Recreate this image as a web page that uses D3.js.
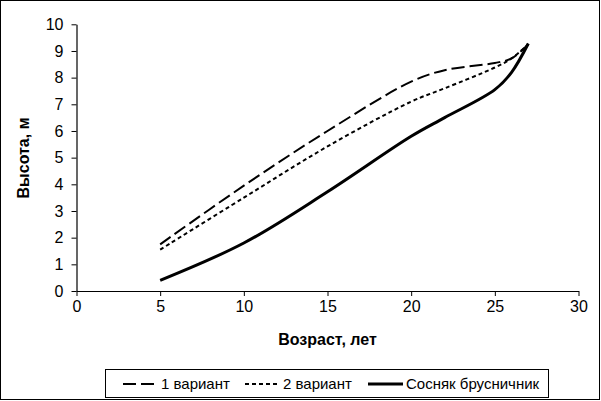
<!DOCTYPE html>
<html>
<head>
<meta charset="utf-8">
<script src="https://cdn.jsdelivr.net/npm/d3@7"></script>
<style>
  body { margin: 0; background: #fff; }
  svg { display: block; font-family: "Liberation Sans", Arial, sans-serif; }
</style>
</head>
<body>
<div id="chart"></div>
<script>
// data
var years = [5, 10, 15, 20, 22, 25, 26, 27];
var variant1 = [1.75, 3.95, 6.0, 7.85, 8.28, 8.55, 8.72, 9.25];
var variant2 = [1.55, 3.5, 5.42, 7.1, 7.6, 8.38, 8.72, 9.25];
var sosnyak = [0.4, 1.8, 3.72, 5.8, 6.5, 7.55, 8.2, 9.28];
var seriesNames = ["1 вариант", "2 вариант", "Сосняк брусничник"];
var xTicks = [0, 5, 10, 15, 20, 25, 30];
var yTicks = [0, 1, 2, 3, 4, 5, 6, 7, 8, 9, 10];

var width = 601,
    height = 401;

var x = d3.scaleLinear().domain([0, 30]).range([76.5, 578.5]);
var y = d3.scaleLinear().domain([0, 10]).range([291, 24.3]);

var svg = d3.select("#chart").append("svg")
  .attr("width", width)
  .attr("height", height);

// outer frame
svg.append("rect")
  .attr("x", 0.5).attr("y", 0.5)
  .attr("width", width - 2).attr("height", height - 2)
  .attr("fill", "#fff").attr("stroke", "#000");

// axes
var xAxis = svg.append("g")
  .attr("transform", "translate(0," + y(0) + ")")
  .call(d3.axisBottom(x).tickValues(xTicks).tickSize(5).tickSizeOuter(0).tickPadding(5));

var yAxis = svg.append("g")
  .attr("transform", "translate(" + x(0) + ",0)")
  .call(d3.axisLeft(y).tickValues(yTicks).tickSize(5).tickSizeOuter(0).tickPadding(8));

[xAxis, yAxis].forEach(function(a){
  a.select(".domain").attr("stroke", "#000").attr("stroke-width", 1.2);
  a.selectAll(".tick line").attr("stroke", "#000");
  a.selectAll(".tick text")
    .attr("fill", "#000")
    .style("font-family", "Liberation Sans, Arial, sans-serif")
    .style("font-size", "16px");
});

// axis titles
svg.append("text")
  .attr("x", 327.5).attr("y", 345)
  .attr("text-anchor", "middle")
  .style("font-weight", "bold").style("font-size", "16px")
  .text("Возраст, лет");

svg.append("text")
  .attr("transform", "translate(29,158) rotate(-90)")
  .attr("text-anchor", "middle")
  .style("font-weight", "bold").style("font-size", "16px")
  .text("Высота, м");

// lines
var styles = [
  { values: variant1, dash: "13,5", width: 2 },
  { values: variant2, dash: "4,3", width: 2 },
  { values: sosnyak, dash: null, width: 3 }
];

var line = d3.line()
  .x(function(d){ return x(d[0]); })
  .y(function(d){ return y(d[1]); })
  .curve(d3.curveCatmullRom.alpha(0.5));

styles.forEach(function(s){
  svg.append("path")
    .datum(years.map(function(yr, i){ return [yr, s.values[i]]; }))
    .attr("d", line)
    .attr("fill", "none")
    .attr("stroke", "#000")
    .attr("stroke-width", s.width)
    .attr("stroke-dasharray", s.dash);
});

// legend
var legend = svg.append("g");
legend.append("rect")
  .attr("x", 105.5).attr("y", 369.5)
  .attr("width", 443).attr("height", 28)
  .attr("fill", "#fff").attr("stroke", "#000");

var legendX = [123, 245, 368];
styles.forEach(function(s, i){
  legend.append("line")
    .attr("x1", legendX[i]).attr("x2", legendX[i] + 35)
    .attr("y1", 384).attr("y2", 384)
    .attr("stroke", "#000")
    .attr("stroke-width", s.width)
    .attr("stroke-dasharray", s.dash);
  legend.append("text")
    .attr("x", legendX[i] + 38).attr("y", 389)
    .style("font-size", "15px")
    .text(seriesNames[i]);
});
</script>
</body>
</html>
